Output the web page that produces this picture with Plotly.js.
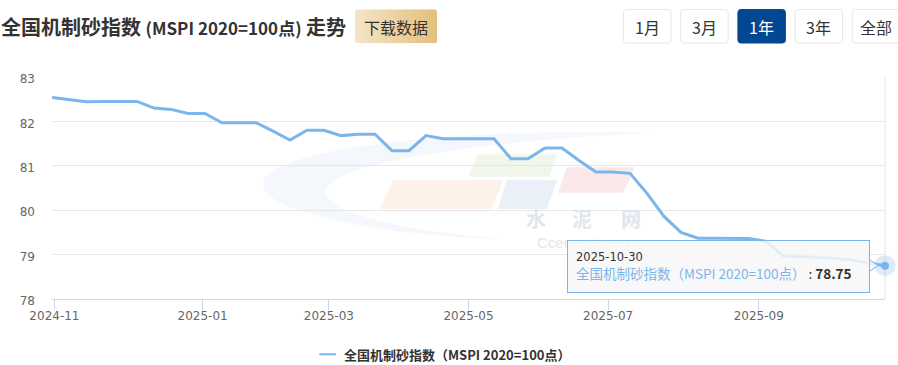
<!DOCTYPE html>
<html>
<head>
<meta charset="utf-8">
<script src="https://cdn.plot.ly/plotly-3.0.1.min.js"></script>
<style>
html,body{margin:0;padding:0;background:#fff;}
#chart{width:898px;height:365px;}
</style>
</head>
<body>
<div id="chart"></div>
<script>
// ---------------- data ----------------
const seriesName = '全国机制砂指数（MSPI 2020=100点）';
const dates = [
 '2024-10-31','2024-11-07','2024-11-14','2024-11-21','2024-11-28','2024-12-05','2024-12-12','2024-12-19','2024-12-26',
 '2025-01-02','2025-01-09','2025-01-16','2025-01-23','2025-02-06','2025-02-13','2025-02-20','2025-02-27',
 '2025-03-06','2025-03-13','2025-03-20','2025-03-27','2025-04-03','2025-04-10','2025-04-17','2025-04-24',
 '2025-05-08','2025-05-15','2025-05-22','2025-05-29','2025-06-05','2025-06-12','2025-06-19','2025-06-26',
 '2025-07-03','2025-07-10','2025-07-17','2025-07-24','2025-07-31','2025-08-07','2025-08-14','2025-08-21','2025-08-28',
 '2025-09-04','2025-09-11','2025-09-18','2025-09-25','2025-10-09','2025-10-16','2025-10-23','2025-10-30'
];
const values = [
 82.54, 82.49, 82.44, 82.45, 82.45, 82.45, 82.30, 82.27, 82.18,
 82.18, 81.97, 81.97, 81.97, 81.78, 81.58, 81.80, 81.80,
 81.68, 81.71, 81.71, 81.34, 81.34, 81.68, 81.61, 81.61,
 81.61, 81.61, 81.16, 81.16, 81.40, 81.40, 81.12, 80.86,
 80.86, 80.83, 80.38, 79.86, 79.50, 79.37, 79.37, 79.36, 79.36,
 79.30, 78.97, 78.96, 78.94, 78.92, 78.88, 78.82, 78.75
];
const tickMonths = ['2024-11','2025-01','2025-03','2025-05','2025-07','2025-09'];
const yTicks = [78, 79, 80, 81, 82, 83];
const rangeButtons = ['1月','3月','1年','3年','全部'];
const activeButton = 2;
const titleMain = '全国机制砂指数';
const titleSub = '(MSPI 2020=100点)';
const titleEnd = '走势';
const downloadLabel = '下载数据';

// ---------------- geometry helpers ----------------
const W = 898, H = 365;
const M = {l: 52, r: 13, t: 77, b: 66};
const PW = W - M.l - M.r, PH = H - M.t - M.b;
const X = p => (p - M.l) / PW;
const Y = p => 1 - (p - M.t) / PH;
const f = v => v.toFixed(5);

function rr(x0, y0, x1, y1, r) {
  return `M${f(X(x0 + r))},${f(Y(y0))} L${f(X(x1 - r))},${f(Y(y0))} Q${f(X(x1))},${f(Y(y0))} ${f(X(x1))},${f(Y(y0 + r))} ` +
         `L${f(X(x1))},${f(Y(y1 - r))} Q${f(X(x1))},${f(Y(y1))} ${f(X(x1 - r))},${f(Y(y1))} ` +
         `L${f(X(x0 + r))},${f(Y(y1))} Q${f(X(x0))},${f(Y(y1))} ${f(X(x0))},${f(Y(y1 - r))} ` +
         `L${f(X(x0))},${f(Y(y0 + r))} Q${f(X(x0))},${f(Y(y0))} ${f(X(x0 + r))},${f(Y(y0))} Z`;
}
function poly(pts) {
  return pts.map((p, i) => (i ? 'L' : 'M') + f(X(p[0])) + ',' + f(Y(p[1]))).join(' ') + ' Z';
}
function pathPx(cmds) {
  return cmds.map(c => {
    const L = c[0]; let s = L;
    for (let i = 1; i < c.length; i += 2) s += (i > 1 ? ' ' : '') + f(X(c[i])) + ',' + f(Y(c[i + 1]));
    return s;
  }).join(' ');
}

// ordinal positions of data points, and month tick positions interpolated between them
const xs = dates.map((d, i) => i);
const tms = dates.map(d => Date.parse(d + 'T00:00:00Z'));
const tickVals = tickMonths.map(m => {
  const t = Date.parse(m + '-01T00:00:00Z');
  if (t <= tms[0]) return 0;
  for (let i = 0; i < tms.length - 1; i++) {
    if (t >= tms[i] && t < tms[i + 1]) return i + (t - tms[i]) / (tms[i + 1] - tms[i]);
  }
  return tms.length - 1;
});

const lineColor = '#7cb5ec';
const last = values.length - 1;

// ---------------- traces ----------------
const traces = [
  {
    x: xs, y: values, text: dates, type: 'scatter', mode: 'lines', name: seriesName,
    line: {color: lineColor, width: 3}, hoverinfo: 'text+y', showlegend: false
  },
  {
    x: [xs[last]], y: [values[last]], type: 'scatter', mode: 'markers', showlegend: false,
    marker: {size: 21, color: 'rgba(124,181,236,0.25)'}, cliponaxis: false, hoverinfo: 'skip'
  },
  {
    x: [xs[last]], y: [values[last]], type: 'scatter', mode: 'markers', showlegend: false,
    marker: {size: 8, color: lineColor}, cliponaxis: false, hoverinfo: 'skip'
  }
];

// ---------------- shapes ----------------
const shapes = [];
// watermark crescent
shapes.push({
  type: 'path', xref: 'paper', yref: 'paper', layer: 'below',
  path: pathPx([['M', 652, 133], ['C', 450, 127, 263, 150, 263, 184], ['C', 263, 214, 390, 236, 505, 239],
                ['C', 400, 231, 326, 212, 326, 192], ['C', 326, 165, 470, 141, 652, 133]]) + ' Z',
  fillcolor: '#f4f7fc', line: {width: 0}
});
// watermark parallelograms
[
  {pts: [[393.3,180],[503.3,180],[491.7,209],[380,209]], c: '#fdf1ea'},
  {pts: [[506.7,180],[557.3,180],[546.7,209],[497.7,209]], c: '#eaf0f7'},
  {pts: [[477.7,154.3],[557.3,154.3],[549.3,176.7],[468.3,176.7]], c: '#f1f6eb'},
  {pts: [[566.7,167.3],[635,167.3],[623.3,192.7],[558.3,192.7]], c: '#fbe8ea'}
].forEach(p => shapes.push({type: 'path', xref: 'paper', yref: 'paper', layer: 'below',
  path: poly(p.pts), fillcolor: p.c, line: {width: 0}}));
// right plot border
shapes.push({type: 'line', xref: 'paper', yref: 'paper', x0: 1, x1: 1, y0: 0, y1: 1,
  line: {color: '#e6e6e6', width: 1}, layer: 'below'});
// range buttons
rangeButtons.forEach((b, i) => {
  const x0 = 623.5 + i * 57.2;
  shapes.push({type: 'path', xref: 'paper', yref: 'paper', layer: 'above',
    path: rr(x0, 9.5, x0 + 47.5, 43, 3),
    fillcolor: i === activeButton ? '#024792' : '#ffffff',
    line: {color: i === activeButton ? '#024792' : '#e6e6e6', width: 1}});
});
// tooltip pointer
shapes.push({type: 'path', xref: 'paper', yref: 'paper', layer: 'above',
  path: pathPx([['M', 867.3, 258], ['L', 878, 265.5], ['L', 867.3, 273]]),
  fillcolor: 'rgba(247,247,247,0.85)', line: {color: lineColor, width: 1}});
// legend line
shapes.push({type: 'line', xref: 'paper', yref: 'paper', layer: 'above',
  x0: X(319.3), x1: X(336), y0: Y(354.3), y1: Y(354.3), line: {color: lineColor, width: 2}});

// ---------------- annotations ----------------
const annotations = [];
const cjk = 'Noto Sans CJK SC, Noto Sans, sans-serif';
// watermark text
[['水', 536], ['泥', 582], ['网', 631]].forEach(a => annotations.push({
  xref: 'paper', yref: 'paper', x: X(a[1]), y: Y(218), text: '<b>' + a[0] + '</b>', showarrow: false,
  xanchor: 'center', yanchor: 'middle', font: {family: cjk, size: 20, color: '#dfe6ee'}
}));
annotations.push({xref: 'paper', yref: 'paper', x: X(583), y: Y(242), text: 'Ccement.com', showarrow: false,
  xanchor: 'center', yanchor: 'middle', font: {family: 'Liberation Sans, Arial, sans-serif', size: 15, color: '#e6e6e6'}});
// range button labels
rangeButtons.forEach((b, i) => {
  const x0 = 623.5 + i * 57.2;
  annotations.push({xref: 'paper', yref: 'paper', x: X(x0 + 23.75), y: Y(26.8), text: b, showarrow: false,
    xanchor: 'center', yanchor: 'middle',
    font: {family: cjk, size: 16, color: i === activeButton ? '#ffffff' : '#333333'}});
});
// download button label
annotations.push({xref: 'paper', yref: 'paper', x: X(396), y: Y(26.5), text: downloadLabel, showarrow: false,
  xanchor: 'center', yanchor: 'middle', font: {family: cjk, size: 16, color: '#333333'}});
// tooltip
annotations.push({
  xref: 'paper', yref: 'paper', x: X(566.5), y: Y(240), xanchor: 'left', yanchor: 'top',
  showarrow: false, align: 'left', valign: 'middle', width: 285, height: 35, borderpad: 8,
  bgcolor: 'rgba(247,247,247,0.85)', bordercolor: lineColor, borderwidth: 1,
  text: "<span style='font-family:DejaVu Sans;font-size:11.5px'>" + dates[last] + "</span><br>" +
        "<span style='color:" + lineColor + "'>" + seriesName + "</span> : <b>" + values[last].toFixed(2) + "</b>",
  font: {family: cjk, size: 13.5, color: '#333333'}
});
// legend text
annotations.push({xref: 'paper', yref: 'paper', x: X(341.5), y: Y(354.5), text: '<b>' + seriesName + '</b>',
  showarrow: false, xanchor: 'left', yanchor: 'middle', font: {family: cjk, size: 13, color: '#333333'}});

// download button gradient background
const btnSvg = "<svg xmlns='http://www.w3.org/2000/svg' width='82' height='34'><defs><linearGradient id='g' x1='0' y1='0' x2='1' y2='0'>" +
  "<stop offset='0' stop-color='#f4e5c8'/><stop offset='1' stop-color='#e3bf7d'/></linearGradient></defs>" +
  "<rect x='0' y='0' width='82' height='34' rx='3' ry='3' fill='url(#g)'/></svg>";
const images = [{
  source: 'data:image/svg+xml;charset=utf-8,' + encodeURIComponent(btnSvg),
  xref: 'paper', yref: 'paper', x: X(355), y: Y(9.3), sizex: 82 / PW, sizey: 34 / PH,
  xanchor: 'left', yanchor: 'top', sizing: 'stretch', layer: 'above'
}];

// ---------------- layout ----------------
const layout = {
  width: W, height: H,
  margin: M,
  paper_bgcolor: '#ffffff',
  plot_bgcolor: 'rgba(0,0,0,0)',
  showlegend: false,
  title: {
    text: '<b>' + titleMain + " <span style='font-size:17px'>" + titleSub + '</span> ' + titleEnd + '</b>',
    xref: 'container', yref: 'container', x: 1 / W, y: 1 - 28 / H, xanchor: 'left', yanchor: 'middle',
    font: {family: cjk, size: 20, color: '#333333'}
  },
  xaxis: {
    type: 'linear', range: [0, xs.length - 1], showgrid: false, zeroline: false,
    showline: true, linecolor: '#ccd6eb', linewidth: 1,
    ticks: 'outside', ticklen: 10, tickcolor: '#ccd6eb', tickwidth: 1,
    tickmode: 'array', tickvals: tickVals, ticktext: tickMonths,
    tickfont: {family: 'DejaVu Sans, sans-serif', size: 12, color: '#666666'},
    ticklabelstandoff: -4,
    fixedrange: true, automargin: false
  },
  yaxis: {
    range: [78, 83], tickmode: 'array', tickvals: yTicks, ticktext: yTicks.map(String),
    showgrid: true, gridcolor: '#e6e6e6', gridwidth: 1, zeroline: false, showline: false, ticks: '',
    tickfont: {family: 'DejaVu Sans, sans-serif', size: 12, color: '#666666'},
    ticklabelstandoff: 16, ticklabelshift: 2,
    fixedrange: true, automargin: false
  },
  shapes: shapes,
  annotations: annotations,
  images: images,
  hovermode: false
};

Plotly.newPlot('chart', traces, layout, {staticPlot: true, displayModeBar: false});
</script>
</body>
</html>
